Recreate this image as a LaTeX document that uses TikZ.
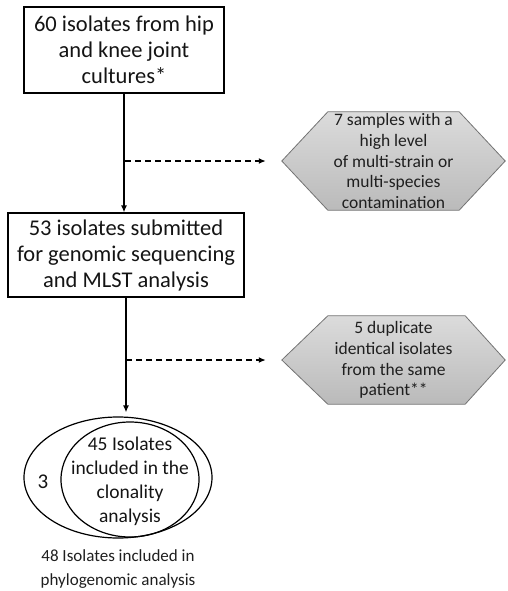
\documentclass[tikz,border=0pt]{standalone}
\usepackage{fontspec}
\setmainfont{Carlito}
\usetikzlibrary{arrows.meta,shapes.geometric,backgrounds}
\begin{document}
\begin{tikzpicture}[x=1pt,y=-1pt,
  box/.style={draw=black,line width=1.2pt,align=center,inner sep=0pt,
    font=\fontsize{22.5}{26}\selectfont,text=black!92},
  hexbox/.style={align=center,inner sep=0pt,
    font=\fontsize{17.5}{20.7}\selectfont,text=black!88},
  hexshape/.style={draw=black!55,line width=0.8pt,top color=black!14,bottom color=black!27},
  flow/.style={line width=1.4pt,-{Latex[length=7pt,width=6pt]}},
  dflow/.style={line width=1.4pt,dash pattern=on 6pt off 4pt,-{Latex[length=7pt,width=6pt]}},
  venn/.style={ellipse,draw=black,line width=1.2pt,inner sep=0pt},
  venntext/.style={align=center,inner sep=0pt,font=\fontsize{19.5}{24}\selectfont,text=black!92},
  captext/.style={align=center,inner sep=0pt,font=\fontsize{17}{24}\selectfont,text=black!88}]
\useasboundingbox (0,0) rectangle (507,591);

\node[box,minimum width=200pt,minimum height=86pt] (b1) at (124,50)
  {60 isolates from hip\\and knee joint\\cultures*};
\node[box,minimum width=236pt,minimum height=84pt] (b2) at (126,255)
  {53 isolates submitted\\for genomic sequencing\\and MLST analysis};

\node[hexbox,minimum width=223pt,minimum height=98pt] (h1) at (393.5,161)
  {7 samples with a\\high level\\of multi-strain or\\multi-species\\contamination};
\node[hexbox,minimum width=223pt,minimum height=88pt] (h2) at (393.5,360)
  {5 duplicate\\identical isolates\\from the same\\patient**};

\begin{scope}[on background layer]
\path[hexshape] (h1.west) -- ([xshift=46pt]h1.north west) -- ([xshift=-46pt]h1.north east)
  -- (h1.east) -- ([xshift=-46pt]h1.south east) -- ([xshift=46pt]h1.south west) -- cycle;
\path[hexshape] (h2.west) -- ([xshift=46pt]h2.north west) -- ([xshift=-40pt]h2.north east)
  -- (h2.east) -- ([xshift=-40pt]h2.south east) -- ([xshift=46pt]h2.south west) -- cycle;
\end{scope}

\node[venn,minimum width=188pt,minimum height=121pt] (outer) at (118,477.5) {};
\node[venn,minimum width=138pt,minimum height=115pt] (inner) at (130,479.5) {};
\node[venntext] (t45) at (130,481) {45 Isolates\\included in the\\clonality\\analysis};
\node[venntext,font=\fontsize{21}{24}\selectfont] (t3) at (43,482) {3};
\node[captext] (cap) at (118,569) {48 Isolates included in\\phylogenomic analysis};

\coordinate (j1) at (125,161);
\coordinate (j2) at (126,360);

\draw[flow] (b1.south) -- (b1.south |- b2.north);
\draw[flow,shorten >=4pt] (b2.south) -- (b2.south |- outer.north);
\draw[dflow,shorten >=16pt] (j1) -- (h1.west);
\draw[dflow,shorten >=16pt] (j2) -- (h2.west);
\end{tikzpicture}
\end{document}
